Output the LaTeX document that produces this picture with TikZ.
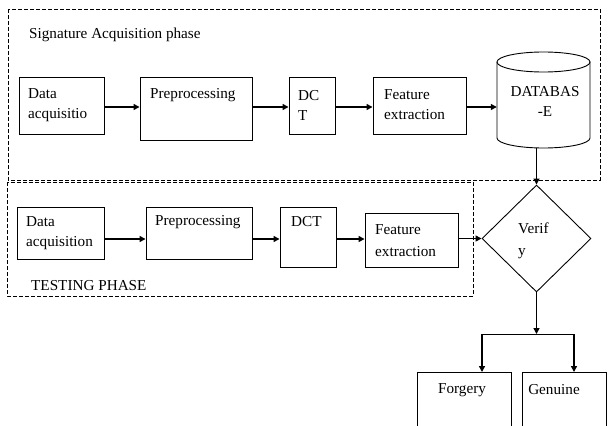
\documentclass[tikz,border=0pt]{standalone}
\usepackage{fontspec}
\setmainfont{Liberation Serif}
\usetikzlibrary{arrows.meta,shapes.geometric}
\begin{document}
\begin{tikzpicture}[x=1pt,y=-1pt,
  box/.style={draw,line width=0.9pt,inner sep=0pt},
  txt/.style={font=\fontsize{15.2}{20}\selectfont,inner sep=0pt,align=left,anchor=west},
  ctxt/.style={font=\fontsize{15.2}{20}\selectfont,inner sep=0pt,align=center},
  arr/.style={line width=1.4pt,-{Triangle[length=6pt,width=6pt]}},
  phase/.style={draw,dash pattern=on 4pt off 2pt,line width=0.7pt}]
\useasboundingbox (0,0) rectangle (609,425);
\clip (0,0) rectangle (609,425);
% phase frames
\draw[phase] (8,9) rectangle (600,180);
\draw[phase] (7,182) rectangle (473,296);
\node[txt] (t1) at (29,35) {Signature Acquisition phase};
\node[txt] (t2) at (31,286) {TESTING PHASE};
% top row
\node[box,minimum width=85pt,minimum height=57pt] (d1) at (61.5,105.5) {};
\node[box,minimum width=112pt,minimum height=63pt] (p1) at (196,108.5) {};
\node[box,minimum width=46pt,minimum height=57pt] (c1) at (312,105.5) {};
\node[box,minimum width=93pt,minimum height=57pt] (f1) at (419.5,105.5) {};
\node[txt] (d1t) at (28,105) {Data\\acquisitio};
\node[txt] (p1t) at (150,95) {Preprocessing};
\node[txt] (c1t) at (298,105) {DC\\T};
\node[txt] (f1t) at (384,105) {Feature\\extraction};
% database cylinder
\draw[line width=0.9pt] (497,62) -- (497,138) arc[start angle=180,end angle=360,x radius=46.5pt,y radius=10pt] -- (590,62);
\draw[line width=0.9pt] (543.5,62) ellipse[x radius=46.5pt,y radius=10pt];
\node[minimum width=93pt,minimum height=96pt,inner sep=0pt] (db) at (543.5,100) {};
\node[ctxt] (dbt) at (545,101.5) {DATABAS\\-E};
% bottom row
\node[box,minimum width=87pt,minimum height=52pt] (d2) at (60.5,233) {};
\node[box,minimum width=106pt,minimum height=52pt] (p2) at (199,233) {};
\node[box,minimum width=56pt,minimum height=60pt] (c2) at (308,237) {};
\node[box,minimum width=93pt,minimum height=54pt] (f2) at (411.5,240) {};
\node[txt] (d2t) at (26,233) {Data\\acquisition};
\node[txt] (p2t) at (155,222) {Preprocessing};
\node[txt] (c2t) at (291,222) {DCT};
\node[txt,font=\fontsize{15.2}{22}\selectfont] (f2t) at (375,241) {Feature\\extraction};
% verify
\node[draw,diamond,line width=0.9pt,minimum width=109pt,minimum height=107pt,inner sep=0pt] (v) at (536.5,238.5) {};
\node[txt,font=\fontsize{15.2}{22}\selectfont] (vt) at (518,241) {Verif\\y};
% outputs
\node[box,minimum width=94pt,minimum height=80pt,anchor=north] (fo) at (464,372) {};
\node[box,minimum width=84pt,minimum height=80pt,anchor=north] (ge) at (564,372) {};
\node[ctxt] (fot) at (462,390) {Forgery};
\node[ctxt] (get) at (554,390) {Genuine};
% connectors
\coordinate (ya) at (0,107);
\draw[arr] (d1.east |- ya) -- (p1.west |- ya);
\draw[arr] (p1.east |- ya) -- (c1.west |- ya);
\draw[arr] (c1.east |- ya) -- (f1.west |- ya);
\draw[arr] (f1.east |- ya) -- (db.west |- ya);
\draw[arr] (v.north |- db.south) -- (v.north);
\coordinate (yb) at (0,239);
\draw[arr] (d2.east |- yb) -- (p2.west |- yb);
\draw[arr] (p2.east |- yb) -- (c2.west |- yb);
\draw[arr] (c2.east |- yb) -- (f2.west |- yb);
\draw[arr] (f2.east |- v.west) -- (v.west);
\coordinate (j) at (536.5,334);
\coordinate (jl) at (482,334);
\coordinate (jr) at (574,334);
\draw[arr] (v.south) -- (j);
\draw[line width=1pt] (jl) -- (jr);
\draw[arr] (jl) -- (jl |- fo.north);
\draw[arr] (jr) -- (jr |- ge.north);
\end{tikzpicture}
\end{document}
